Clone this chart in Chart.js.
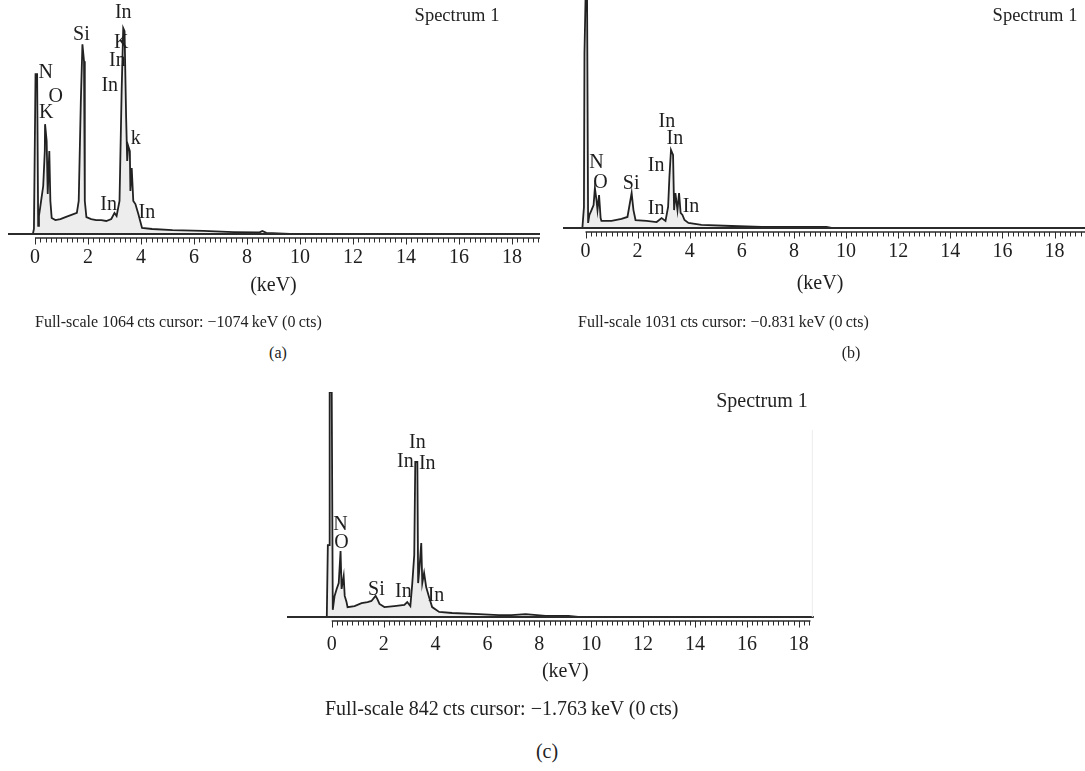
<!DOCTYPE html>
<html><head><meta charset="utf-8">
<script src="https://cdn.jsdelivr.net/npm/chart.js@4.4.1/dist/chart.umd.min.js"></script>
<style>
body{margin:0;background:#fff;width:1085px;height:771px;position:relative;overflow:hidden;font-family:"Liberation Serif","Times New Roman",serif;color:#222;}
.c{position:absolute;}
.t{position:absolute;font-size:20px;white-space:nowrap;line-height:1;}
.m{transform:translate(-50%,-50%);}
.l{transform:translate(0,-50%);}
.s{font-size:16px;}
.sp{font-size:18.5px;}
</style></head><body>
<div class="c" style="left:0;top:0;width:545px;height:322px"><canvas id="ca"></canvas></div>
<div class="c" style="left:556px;top:0;width:529px;height:316px"><canvas id="cb"></canvas></div>
<div class="c" style="left:280px;top:380px;width:545px;height:333px"><canvas id="cc"></canvas></div>

<div class="t m sp" style="left:457px;top:15px">Spectrum 1</div>
<div class="t m sp" style="left:1035px;top:15px">Spectrum 1</div>
<div class="t m" style="left:762px;top:400px">Spectrum 1</div>
<div class="t l s" style="left:35px;top:322px">Full-scale 1064&#8201;cts cursor: &#8722;1074&#8201;keV (0&#8201;cts)</div>
<div class="t l s" style="left:578px;top:322px">Full-scale 1031&#8201;cts cursor: &#8722;0.831&#8201;keV (0&#8201;cts)</div>
<div class="t l" style="left:325px;top:708px">Full-scale 842&#8201;cts cursor: &#8722;1.763&#8201;keV (0&#8201;cts)</div>
<div class="t m s" style="left:278px;top:353px">(a)</div>
<div class="t m s" style="left:851px;top:353px">(b)</div>
<div class="t m" style="left:547px;top:751px">(c)</div>

<script>
// ---- data (energy in keV, intensity in counts) ----
const tickValues = [0, 2, 4, 6, 8, 10, 12, 14, 16, 18];

const keV_a = [-0.08,-0.04,0.02,0.08,0.12,0.15,0.23,0.31,0.37,0.38,0.44,0.48,0.54,0.58,0.63,0.77,0.96,1.15,1.35,1.58,1.65,1.73,1.79,1.85,1.88,1.94,2.12,2.31,2.50,2.69,2.88,3.00,3.08,3.19,3.27,3.33,3.38,3.44,3.48,3.52,3.58,3.60,3.65,3.71,3.79,3.90,4.04,4.42,5.19,6.35,7.50,8.46,8.58,8.73,9.62];
const counts_a = [0,23,736,736,37,83,152,221,382,506,428,184,382,152,74,64,69,78,87,97,152,612,874,796,152,78,69,64,64,60,69,97,83,152,658,948,934,534,336,405,382,198,304,152,138,92,28,23,18,14,9,7,14,5,0];

const keV_b = [-0.12,-0.06,-0.04,0.00,0.06,0.10,0.15,0.23,0.31,0.36,0.42,0.46,0.52,0.58,0.61,1.00,1.38,1.61,1.69,1.77,1.84,1.92,2.34,2.73,2.92,3.07,3.17,3.22,3.28,3.36,3.40,3.45,3.53,3.59,3.65,3.72,3.80,3.95,4.45,5.60,6.76,7.91,9.25,9.44];
const counts_b = [0,95,791,1031,1031,23,59,81,104,181,127,81,149,45,32,32,41,50,104,158,81,36,32,27,45,32,95,231,353,330,81,158,81,158,68,59,36,23,14,9,5,5,5,0];

const keV_c = [-0.19,-0.15,-0.10,-0.08,0.00,0.04,0.11,0.19,0.27,0.34,0.38,0.46,0.50,0.57,0.61,0.88,1.15,1.38,1.53,1.69,1.76,1.84,2.03,2.41,2.80,2.91,3.03,3.10,3.18,3.22,3.30,3.33,3.39,3.45,3.49,3.56,3.64,3.75,3.87,4.14,4.64,5.67,6.44,6.93,7.47,8.24,9.12,9.50];
const counts_c = [0,269,269,842,842,27,79,105,127,247,105,153,79,56,37,41,52,56,60,79,67,49,37,41,45,56,41,120,232,580,580,127,194,277,127,165,112,75,37,19,15,11,7,7,11,4,4,0];

// peak labels (text, keV, counts)
const peakText_a = ['N','O','K','Si','In','K','In','In','k','In','In'];
const peakKeV_a = [0.40,0.78,0.42,1.75,3.33,3.25,3.11,2.82,3.80,2.78,4.22];
const peakCts_a = [745,630,557,920,1017,883,800,685,437,133,97];

const peakText_b = ['N','O','Si','In','In','In','In','In'];
const peakKeV_b = [0.42,0.57,1.75,3.12,3.43,2.71,2.71,4.05];
const peakCts_b = [294,203,199,479,402,280,86,95];

const peakText_c = ['N','O','Si','In','In','In','In','In'];
const peakKeV_c = [0.34,0.38,1.72,3.30,2.84,3.68,2.76,4.02];
const peakCts_c = [344,277,101,651,580,572,94,79];

const FONT = '"Liberation Serif","Times New Roman",serif';

const deco = {
  id: 'deco',
  afterDatasetsDraw(chart, args, o) {
    const {ctx, chartArea: ca, scales: {x, y}} = chart;
    const yb = ca.bottom;
    ctx.save();
    ctx.strokeStyle = '#2b2b2b';
    // base axis line
    ctx.lineWidth = 2;
    ctx.beginPath(); ctx.moveTo(ca.left, yb); ctx.lineTo(ca.right, yb); ctx.stroke();
    if (o.frameRight) {
      ctx.strokeStyle = '#ececec'; ctx.lineWidth = 1;
      ctx.beginPath(); ctx.moveTo(ca.right - 1.5, yb); ctx.lineTo(ca.right - 1.5, y.getPixelForValue(o.frameTop)); ctx.stroke();
      ctx.strokeStyle = '#2b2b2b';
    }
    // tick ruler
    const ty = yb + o.gap;
    const x0 = x.getPixelForValue(0);
    const lim = o.rulerEnd || x.max;
    ctx.lineWidth = 1.3;
    ctx.beginPath(); ctx.moveTo(x0, ty); ctx.lineTo(x.getPixelForValue(lim), ty); ctx.stroke();
    ctx.lineWidth = 1;
    for (let i = 0; i * 0.2 <= lim + 1e-9; i++) {
      const px = Math.round(x.getPixelForValue(i * 0.2)) + 0.5;
      const len = (i % 10 === 0) ? 6.5 : 4.5;
      ctx.beginPath(); ctx.moveTo(px, ty); ctx.lineTo(px, ty + len); ctx.stroke();
    }
    // peak labels
    ctx.fillStyle = '#1e1e1e';
    ctx.font = '20px ' + FONT;
    ctx.textAlign = 'center';
    ctx.textBaseline = 'middle';
    o.text.forEach((t, i) => ctx.fillText(t, x.getPixelForValue(o.kev[i]), y.getPixelForValue(o.cts[i])));
    // axis title
    ctx.fillText('(keV)', x.getPixelForValue(9), yb + o.titleOffset);
    ctx.restore();
  }
};

function makeChart(id, kev, cts, full, xmin, xmax, pad, tickPad, deco_opts) {
  const pts = kev.map((k, i) => ({x: k, y: cts[i]}));
  return new Chart(document.getElementById(id), {
    type: 'line',
    data: {datasets: [{
      data: pts,
      borderColor: '#222',
      borderWidth: 1.8,
      backgroundColor: 'rgba(0,0,0,0.07)',
      fill: 'origin',
      pointRadius: 0,
      tension: 0
    }]},
    options: {
      responsive: true,
      maintainAspectRatio: false,
      animation: false,
      events: [],
      layout: {padding: pad},
      plugins: {legend: {display: false}, tooltip: {enabled: false}, deco: deco_opts},
      scales: {
        x: {
          type: 'linear', min: xmin, max: xmax,
          afterBuildTicks: (s) => { s.ticks = tickValues.map(v => ({value: v})); },
          grid: {display: false, drawTicks: false},
          border: {display: false},
          ticks: {padding: tickPad, autoSkip: false, maxRotation: 0, color: '#1e1e1e',
                  font: {family: FONT, size: 20}}
        },
        y: {type: 'linear', min: 0, max: full, display: false}
      }
    },
    plugins: [deco]
  });
}

makeChart('ca', keV_a, counts_a, 1064, -1.019, 19.06, {left: 8, right: 5, top: 3, bottom: 40}, 12,
  {gap: 4, titleOffset: 52, text: peakText_a, kev: peakKeV_a, cts: peakCts_a});
makeChart('cb', keV_b, counts_b, 1031, -0.864, 19.17, {left: 7, right: 0, top: 0, bottom: 40}, 12,
  {gap: 4, titleOffset: 56, text: peakText_b, kev: peakKeV_b, cts: peakCts_b});
makeChart('cc', keV_c, counts_c, 842, -1.724, 18.58, {left: 7, right: 8, top: 12, bottom: 40}, 16,
  {gap: 4, titleOffset: 55, text: peakText_c, kev: peakKeV_c, cts: peakCts_c, frameRight: true, frameTop: 700, rulerEnd: 18.45});
</script>
</body></html>
